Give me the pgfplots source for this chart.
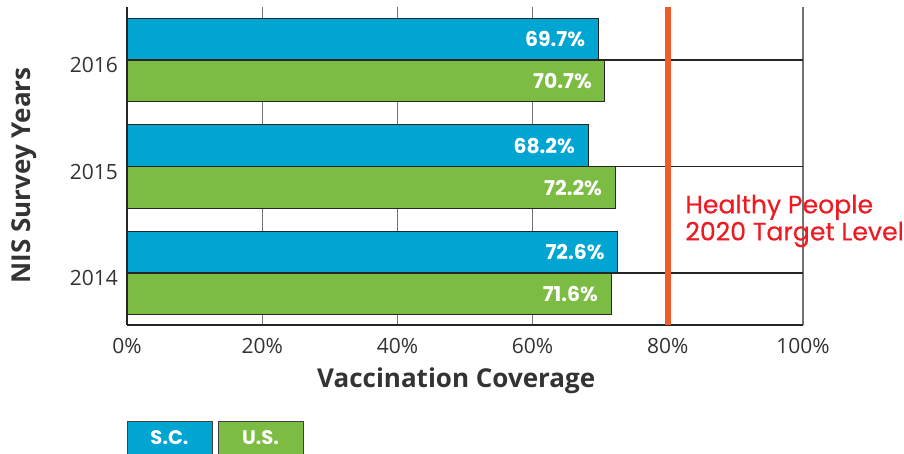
\documentclass[border=0pt]{standalone}
\usepackage{pgfplots}
\pgfplotsset{compat=1.18}
\usepackage{fontspec}
\setmainfont{Open Sans}
\newfontfamily\pop{Poppins}
\newfontfamily\popm{Poppins}[FakeBold=0.5]
\definecolor{scblue}{HTML}{00A5D1}
\definecolor{usgreen}{HTML}{7CBC42}
\definecolor{target}{HTML}{F15A29}
\definecolor{tred}{HTML}{ED1C24}
\definecolor{txt}{HTML}{333333}
\begin{document}
\begin{tikzpicture}
\path[use as bounding box] (0,0) rectangle (452pt,227pt);
\begin{axis}[
  at={(63.5pt,64.5pt)}, anchor=south west,
  scale only axis, width=338pt, height=159pt,
  xbar, bar width=0.39,
  xmin=0, xmax=100, ymin=-0.488, ymax=2.498,
  xtick={0,20,40,60,80,100},
  xticklabels={0\%,20\%,40\%,60\%,80\%,100\%},
  ytick={0,1,2}, yticklabels={2014,2015,2016},
  major tick length=0pt,
  axis lines*=left,
  axis line style={draw=black!85,line width=0.6pt,-},
  xmajorgrids, ymajorgrids,
  x grid style={draw=black!55,line width=0.6pt},
  y grid style={draw=black!85,line width=0.6pt},
  tick label style={font=\fontsize{10.5}{12}\selectfont, text=txt},
  xticklabel style={yshift=-3pt},
  yticklabel style={xshift=-1pt, yshift=-2.5pt},
  xlabel={Vaccination Coverage},
  ylabel={NIS Survey Years},
  xlabel style={at={(axis description cs:0.487,-0.176)},anchor=center,font=\fontsize{13}{15}\selectfont\bfseries,text=txt},
  ylabel style={at={(axis description cs:-0.152,0.47)},anchor=center,font=\fontsize{13}{15}\selectfont\bfseries,text=txt},
  nodes near coords={\pgfmathprintnumber[assume math mode=true,fixed,fixed zerofill,precision=1]{\pgfplotspointmeta}\%},
  point meta=x,
  nodes near coords style={anchor=east, xshift=-3pt, text=white, font=\pop\bfseries\fontsize{10.2}{12}\selectfont},
  clip=false,
]
\addplot[fill=scblue, draw=black!85, line width=0.5pt, bar shift=0.197]
  coordinates {(72.6,0) (68.2,1) (69.7,2)};
\addplot[fill=usgreen, draw=black!85, line width=0.5pt, bar shift=-0.197]
  coordinates {(71.6,0) (72.2,1) (70.7,2)};
\addplot[draw=target, line width=3pt, forget plot, nodes near coords={}, sharp plot]
  coordinates {(80,-0.488) (80,2.498)};
\end{axis}
\node[anchor=west, inner sep=0pt, align=left, text=tred, font=\popm\fontsize{12.6}{13.5}\selectfont] at (342.5pt,116.5pt) {Healthy People\\2020 Target Level};
\draw[draw=black!75, line width=0.5pt, fill=scblue] (63.5pt,16pt) rectangle (106pt,-3pt);
\draw[draw=black!75, line width=0.5pt, fill=usgreen] (109pt,16pt) rectangle (151.5pt,-3pt);
\node[text=white, font=\pop\bfseries\fontsize{9.8}{11}\selectfont] at (84.75pt,8pt) {S.C.};
\node[text=white, font=\pop\bfseries\fontsize{9.8}{11}\selectfont] at (130.25pt,8pt) {U.S.};
\end{tikzpicture}
\end{document}
